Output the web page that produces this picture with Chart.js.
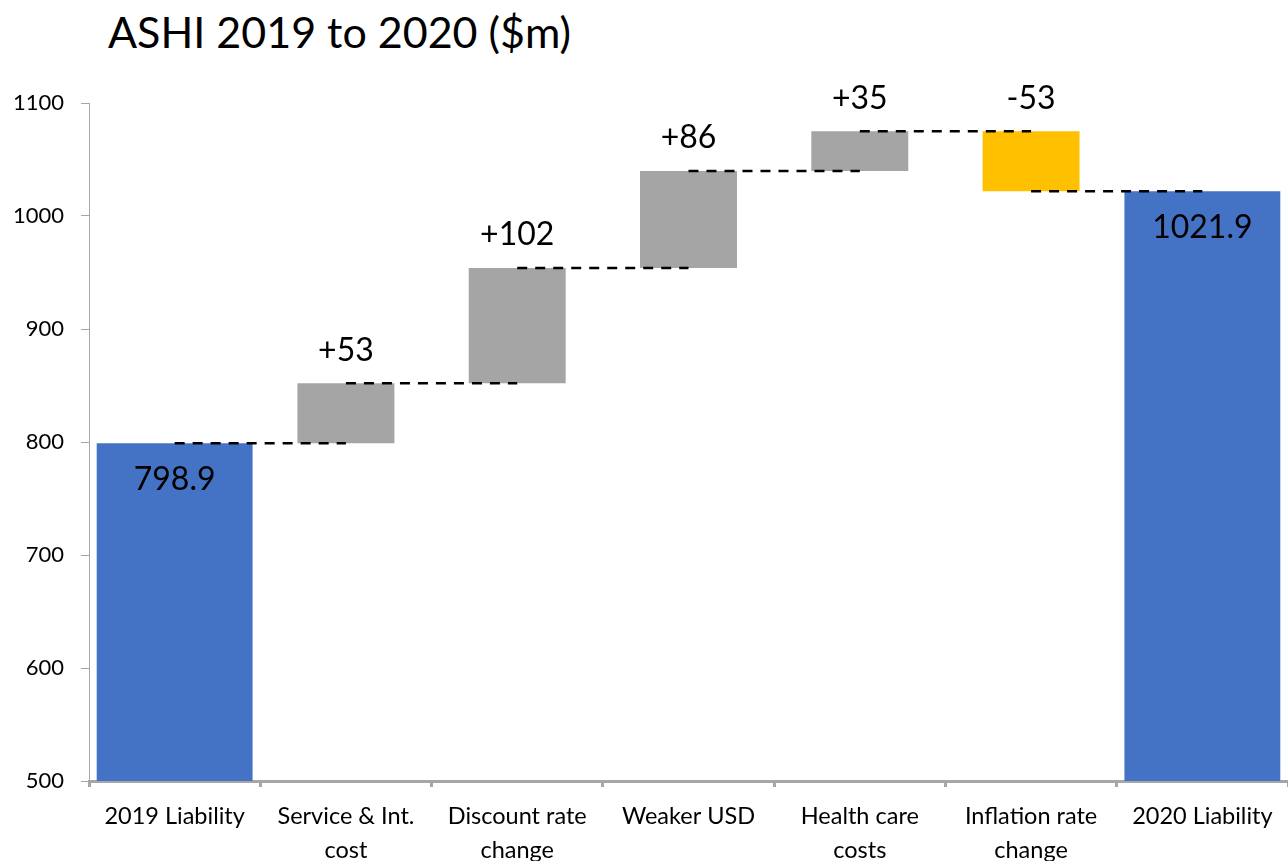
<!DOCTYPE html>
<html>
<head>
<meta charset="utf-8">
<script src="https://cdn.jsdelivr.net/npm/chart.js@4"></script>
<style>
  html, body { margin: 0; padding: 0; background: #fff; overflow: hidden; }
  #wrap { position: relative; width: 1288px; height: 861px; }
  #title { position: absolute; left: 108px; top: 7px; font-family: Lato, "Open Sans", sans-serif; font-size: 43px; color: #000; line-height: 50px; white-space: nowrap; }
  canvas { position: absolute; left: 0; top: 0; }
</style>
</head>
<body>
<div id="wrap">
  <div id="title">ASHI 2019 to 2020 ($m)</div>
  <canvas id="c" width="1288" height="861"></canvas>
</div>
<script>
// ---- data ----
const categories = [
  ['2019 Liability'],
  ['Service & Int.', 'cost'],
  ['Discount rate', 'change'],
  ['Weaker USD'],
  ['Health care', 'costs'],
  ['Inflation rate', 'change'],
  ['2020 Liability']
];
const startTotal = 798.9;
const endTotal = 1021.9;
const changes = [53, 102, 86, 35, -53];
const changeLabels = ['+53', '+102', '+86', '+35', '-53'];
const yTicks = [500, 600, 700, 800, 900, 1000, 1100];

// ---- derived series ----
const n = categories.length;
const totalsData = categories.map((_, i) => i === 0 ? startTotal : (i === n - 1 ? endTotal : null));
const floatData = [null];
const levels = [startTotal];
let run = startTotal;
changes.forEach(c => { floatData.push([run, run + c]); run += c; levels.push(run); });
floatData.push(null);
const floatColors = [null].concat(changes.map(c => c >= 0 ? '#A5A5A5' : '#FFC000')).concat([null]);

const connectorSets = levels.map((lv, i) => ({
  type: 'line',
  data: categories.map((_, j) => (j === i || j === i + 1) ? lv : null),
  borderColor: '#000',
  borderWidth: 2.5,
  borderDash: [10, 8],
  pointRadius: 0,
  fill: false,
  spanGaps: false,
  order: 0
}));

const labelPlugin = {
  id: 'wfLabels',
  afterDatasetsDraw(chart) {
    const ctx = chart.ctx;
    ctx.save();
    ctx.font = '32px Lato, "Open Sans", sans-serif';
    ctx.fillStyle = '#000';
    ctx.textAlign = 'center';
    ctx.textBaseline = 'middle';
    const mt = chart.getDatasetMeta(0);
    mt.data.forEach((el, i) => {
      if (totalsData[i] == null) return;
      ctx.fillText(totalsData[i].toFixed(1), el.x, el.y + 36);
    });
    const mf = chart.getDatasetMeta(1);
    mf.data.forEach((el, i) => {
      if (floatData[i] == null) return;
      const top = Math.min(el.y, el.base);
      ctx.fillText(changeLabels[i - 1], el.x, top - 33);
    });
    ctx.restore();
  }
};

new Chart(document.getElementById('c'), {
  type: 'bar',
  data: {
    labels: categories,
    datasets: [
      { data: totalsData, backgroundColor: '#4472C4', barPercentage: 0.91, categoryPercentage: 1, grouped: false, order: 2 },
      { data: floatData, backgroundColor: floatColors, barPercentage: 0.566, categoryPercentage: 1, grouped: false, order: 1 }
    ].concat(connectorSets)
  },
  options: {
    responsive: false,
    animation: false,
    events: [],
    layout: { padding: { top: 103, right: -4, left: 0, bottom: 0 } },
    plugins: { legend: { display: false }, tooltip: { enabled: false }, title: { display: false } },
    scales: {
      x: {
        offset: true,
        grid: { display: true, offset: true, drawOnChartArea: false, drawTicks: true, tickLength: 6, color: '#A6A6A6', lineWidth: 3 },
        border: { display: true, color: '#A6A6A6', width: 3 },
        ticks: { color: '#000', font: { family: 'Lato, "Open Sans", sans-serif', size: 23.5, lineHeight: 1.42 }, padding: 13, maxRotation: 0, autoSkip: false },
        afterFit(s) { s.height = 80; }
      },
      y: {
        min: 500, max: 1100,
        afterBuildTicks(s) { s.ticks = yTicks.map(v => ({ value: v })); },
        grid: { display: true, drawOnChartArea: false, drawTicks: true, tickLength: 8, color: '#A6A6A6', lineWidth: 1 },
        border: { display: true, color: '#A6A6A6', width: 1 },
        ticks: { color: '#000', font: { family: 'Lato, "Open Sans", sans-serif', size: 22 }, padding: 17, callback: v => String(v) },
        afterFit(s) { s.width = 89; }
      }
    }
  },
  plugins: [labelPlugin]
});
</script>
</body>
</html>
